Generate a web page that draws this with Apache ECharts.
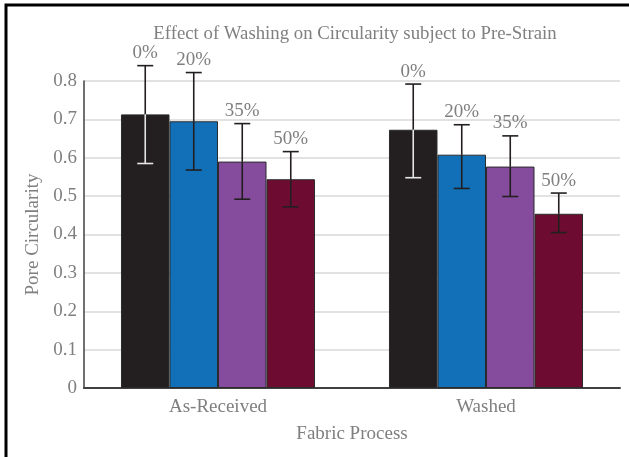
<!DOCTYPE html>
<html>
<head>
<meta charset="utf-8">
<script src="https://cdn.jsdelivr.net/npm/echarts@6/dist/echarts.min.js"></script>
<style>html,body{margin:0;padding:0;background:#fff}#c{width:629px;height:457px}</style>
</head>
<body>
<div id="c"></div>
<script>
const categories = ['As-Received', 'Washed'];
const strainLabels = ['0%', '20%', '35%', '50%'];
const means = [[0.713, 0.673], [0.695, 0.608], [0.590, 0.577], [0.544, 0.454]];
const lows  = [[0.585, 0.548], [0.568, 0.520], [0.492, 0.499], [0.472, 0.405]];
const highs = [[0.840, 0.792], [0.822, 0.686], [0.689, 0.657], [0.616, 0.508]];
const barColors = ['#231f20', '#1170b8', '#854c9d', '#6d0c30'];
const innerErrColors = ['#e6e6e6', '#231f20', '#231f20', '#231f20'];

const GAP = 0.276;
const FONT = 'Liberation Serif';
const series = [];
strainLabels.forEach((name, s) => {
  series.push({
    type: 'bar', name: name, data: means[s],
    barGap: '0%', barCategoryGap: (GAP * 100) + '%',
    itemStyle: { color: barColors[s], borderColor: '#2b2b2b', borderWidth: 1 },
    z: 2
  });
});
strainLabels.forEach((name, s) => {
  series.push({
    type: 'custom', name: name + ' err', z: 5,
    data: categories.map((c, i) => [i, lows[s][i], highs[s][i], means[s][i]]),
    renderItem: function (params, api) {
      const ci = api.value(0), lo = api.value(1), hi = api.value(2), m = api.value(3);
      const band = api.size([1, 0])[0];
      const bw = band * (1 - GAP) / 4;
      const cx = api.coord([ci, 0])[0] + (s - 1.5) * bw;
      const yHi = api.coord([ci, hi])[1];
      const yLo = api.coord([ci, lo])[1];
      const yM = api.coord([ci, m])[1];
      const hw = 8;
      const dark = { stroke: '#231f20', lineWidth: 1.6 };
      const inner = { stroke: innerErrColors[s], lineWidth: 1.6 };
      return {
        type: 'group',
        children: [
          { type: 'line', shape: { x1: cx, y1: yHi, x2: cx, y2: yM }, style: dark },
          { type: 'line', shape: { x1: cx, y1: yM, x2: cx, y2: yLo }, style: inner },
          { type: 'line', shape: { x1: cx - hw, y1: yHi, x2: cx + hw, y2: yHi }, style: dark },
          { type: 'line', shape: { x1: cx - hw, y1: yLo, x2: cx + hw, y2: yLo }, style: inner },
          { type: 'text', style: { text: strainLabels[s], x: cx, y: yHi - 3, align: 'center', verticalAlign: 'bottom',
              fill: '#7f7f7f', font: '19px "' + FONT + '"' } }
        ]
      };
    }
  });
});

const chart = echarts.init(document.getElementById('c'), null, { renderer: 'canvas' });
chart.setOption({
  animation: false,
  backgroundColor: '#fff',
  textStyle: { fontFamily: FONT },
  title: {
    text: 'Effect of Washing on Circularity subject to Pre-Strain',
    left: 350, textAlign: 'center', top: 20,
    textStyle: { fontFamily: FONT, fontSize: 18.8, fontWeight: 'normal', color: '#808080' }
  },
  grid: { left: 84, right: 9, top: 81, bottom: 69, containLabel: false },
  xAxis: {
    type: 'category', data: categories,
    name: 'Fabric Process', nameLocation: 'middle', nameGap: 37,
    nameTextStyle: { fontFamily: FONT, fontSize: 19, color: '#7f7f7f' },
    axisLine: { lineStyle: { color: '#404040', width: 2 } },
    axisTick: { show: false },
    axisLabel: { fontFamily: FONT, fontSize: 19, color: '#7f7f7f', margin: 10 }
  },
  yAxis: {
    type: 'value', min: 0, max: 0.8, interval: 0.1,
    name: 'Pore Circularity', nameLocation: 'middle', nameGap: 38,
    nameTextStyle: { fontFamily: FONT, fontSize: 19, color: '#7f7f7f' },
    axisLine: { show: true, lineStyle: { color: '#404040', width: 1.5 } },
    axisTick: { show: false },
    axisLabel: { fontFamily: FONT, fontSize: 19, color: '#7f7f7f', margin: 7,
      formatter: v => (Math.round(v * 10) / 10).toString() },
    splitLine: { lineStyle: { color: '#d9d9d9', width: 1.5 } }
  },
  graphic: [{
    type: 'rect', shape: { x: 6, y: 5, width: 800, height: 800 },
    style: { fill: 'none', stroke: '#000', lineWidth: 3 }, z: 100
  }],
  series: series
});
</script>
</body>
</html>
